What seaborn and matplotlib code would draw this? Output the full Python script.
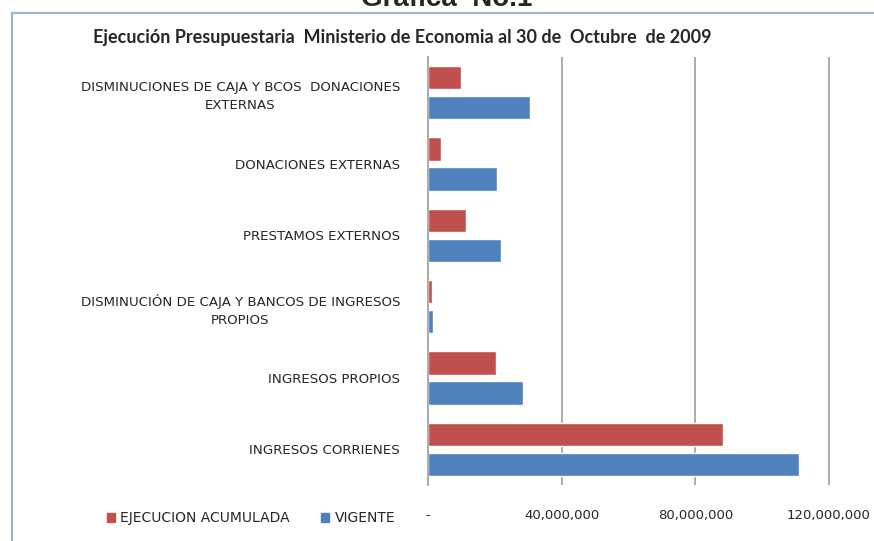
import matplotlib
matplotlib.use("Agg")
import pandas as pd
import numpy as np
import matplotlib.pyplot as plt
import seaborn as sns
from matplotlib.patches import Rectangle
from matplotlib.ticker import FixedLocator

# ----------------- Datos -----------------
categorias = [
    "DISMINUCIONES DE CAJA Y BCOS  DONACIONES\nEXTERNAS",
    "DONACIONES EXTERNAS",
    "PRESTAMOS EXTERNOS",
    "DISMINUCIÓN DE CAJA Y BANCOS DE INGRESOS\nPROPIOS",
    "INGRESOS PROPIOS",
    "INGRESOS CORRIENES",
]
ejecucion = [9.9e6, 3.9e6, 11.4e6, 1.2e6, 20.4e6, 88.3e6]
vigente = [30.5e6, 20.7e6, 21.9e6, 1.5e6, 28.4e6, 111.0e6]
series = ["EJECUCION ACUMULADA", "VIGENTE"]
colores = ["#C0504D", "#4F81BD"]
ticks = [0, 40e6, 80e6, 120e6]
tick_labels = ["-", "40,000,000", "80,000,000", "120,000,000"]

df = pd.DataFrame({
    "categoria": categorias * 2,
    "valor": ejecucion + vigente,
    "serie": [series[0]] * len(categorias) + [series[1]] * len(categorias),
})

# ----------------- Gráfico -----------------
sns.set_style("white")
plt.rcParams["font.family"] = ["DejaVu Sans"]

fig = plt.figure(figsize=(8.74, 5.41), dpi=100)
ax = fig.add_axes([428 / 874, 1 - 485 / 541, 1 - 428 / 874, (485 - 57) / 541])

sns.barplot(data=df, x="valor", y="categoria", hue="serie", orient="h",
            palette=colores, width=0.84, gap=0.23, saturation=1,
            legend=False, ax=ax)

ax.set_xlim(0, 133.5e6)
ax.xaxis.set_major_locator(FixedLocator(ticks))
ax.set_xticklabels(tick_labels, fontsize=9.5, color="#262626")
ax.tick_params(axis="x", length=0, pad=17)
ax.tick_params(axis="y", length=0, pad=20)
for lbl in ax.get_yticklabels():
    lbl.set_fontsize(9.6)
    lbl.set_color("#262626")
    lbl.set_multialignment("center")
    lbl.set_linespacing(1.45)
ax.grid(axis="x", color="#A6A6A6", lw=1.3)
ax.set_axisbelow(True)
for s in ["top", "right", "bottom"]:
    ax.spines[s].set_visible(False)
ax.spines["left"].set_color("#A6A6A6")
ax.spines["left"].set_linewidth(1.3)
ax.set_xlabel("")
ax.set_ylabel("")

# borde del área del gráfico
fig.patches.append(Rectangle((12 / 874, -0.1), 1.2, 1 - 13 / 541 + 0.1,
                             transform=fig.transFigure, fill=False,
                             edgecolor="#95B3D7", lw=1.5))

# títulos
fig.text(447 / 874, 1 - 6 / 541, "Gráfica  No.1", ha="center", va="baseline",
         fontsize=20, fontweight="bold", family="Liberation Sans")
fig.text(93 / 874, 1 - 38 / 541,
         "Ejecución Presupuestaria  Ministerio de Economia al 30 de  Octubre  de 2009",
         ha="left", va="center", fontsize=13, fontweight="bold", family="Lato")

# leyenda
handles = [Rectangle((0, 0), 1, 1, color=c) for c in colores]
fig.legend(handles, series, loc="center left", bbox_to_anchor=(94 / 874, 1 - 518 / 541),
           ncol=2, frameon=False, fontsize=10, handlelength=0.6, handleheight=0.6,
           handletextpad=0.4, columnspacing=2.2, labelcolor="#262626")

fig.savefig("out.png", dpi=100)
